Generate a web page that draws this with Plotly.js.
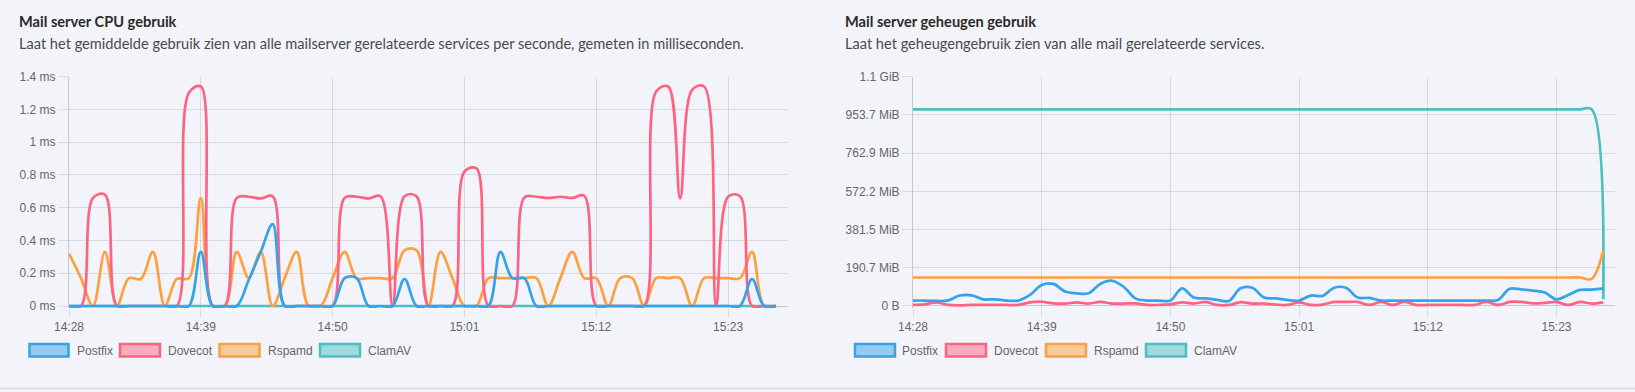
<!DOCTYPE html>
<html>
<head>
<meta charset="utf-8">
<script src="https://cdn.plot.ly/plotly-3.0.1.min.js"></script>
<style>
html,body{margin:0;padding:0;background:#f3f4f9;}
#chart{width:1635px;height:392px;}
</style>
</head>
<body>
<div id="chart"></div>
<script>
// ---- data ----
const times = ['14:28','14:29','14:30','14:31','14:32','14:33','14:34','14:35','14:36','14:37',
  '14:38','14:39','14:40','14:41','14:42','14:43','14:44','14:45','14:46','14:47',
  '14:48','14:49','14:50','14:51','14:52','14:53','14:54','14:55','14:56','14:57',
  '14:58','14:59','15:00','15:01','15:02','15:03','15:04','15:05','15:06','15:07',
  '15:08','15:09','15:10','15:11','15:12','15:13','15:14','15:15','15:16','15:17',
  '15:18','15:19','15:20','15:21','15:22','15:23','15:24','15:25','15:26','15:27'];

const seriesNames = ['Postfix','Dovecot','Rspamd','ClamAV'];

// CPU usage (ms)
const cpuPostfix = [0,0,0,0,0,0,0,0,0,0,
  0,0.33,0,0,0,0.16,0.33,0.5,0,0,
  0,0,0,0.17,0.17,0,0,0,0.165,0,
  0,0,0,0,0,0,0.33,0.17,0.17,0,
  0,0,0,0,0,0,0,0,0,0,
  0,0,0,0,0,0,0,0.165,0,0];
const cpuDovecot = [0,0,0.66,0.68,0,0,0,0,0,0,
  1.30,1.34,0,0,0.66,0.667,0.657,0.67,0,0,
  0,0,0,0.66,0.667,0.657,0.67,0,0.67,0.67,
  0,0,0,0.82,0.84,0,0,0,0.663,0.667,
  0.66,0.667,0.66,0.673,0,0,0,0,0,1.31,
  1.34,0.657,1.32,1.34,0,0.667,0.67,0,0,0];
const cpuRspamd = [0.32,0.17,0,0.33,0,0.17,0.165,0.33,0,0.165,
  0.17,0.66,0,0,0.33,0.17,0.33,0,0.17,0.33,
  0,0,0.17,0.33,0.17,0.17,0.17,0.17,0.34,0.34,
  0,0.33,0.17,0,0,0.17,0.17,0.17,0.17,0.17,
  0,0.17,0.33,0.17,0.17,0,0.17,0.17,0,0.17,
  0.17,0.17,0,0.17,0.17,0.17,0.17,0.33,0,0];
const cpuClamAV = [0,0,0,0,0,0,0,0,0,0,
  0,0,0,0,0,0,0,0,0,0,
  0,0,0,0,0,0,0,0,0,0,
  0,0,0,0,0,0,0,0,0,0,
  0,0,0,0,0,0,0,0,0,0,
  0,0,0,0,0,0,0,0,0,0];

// Memory usage (MiB)
const memPostfix = [27,27,25,28,52,53,33,33,27,27,
  55,105,110,72,63,63,110,126,96,38,
  27,27,27,88,42,38,30,25,88,91,
  42,38,30,27,52,50,91,91,42,40,
  27,27,27,27,27,27,27,27,27,27,
  30,86,83,77,67,33,55,80,82,88];
const memDovecot = [5,8,18,5,3,5,5,5,5,5,
  18,21,13,12,18,12,20,12,12,13,
  5,5,8,18,12,20,5,5,19,12,
  12,7,5,18,5,7,20,20,20,5,
  20,5,20,5,5,5,5,5,5,20,
  5,20,20,13,15,20,5,20,12,18];
const memRspamd = [142,142,142,142,142,142,142,142,142,142,
  142,142,142,142,142,142,142,142,142,142,
  142,142,142,142,142,142,142,142,142,142,
  142,142,142,142,142,142,142,142,142,142,
  142,142,142,142,142,142,142,142,142,142,
  142,142,142,142,142,142,142,142,135,279];
const memClamAV = [981,981,981,981,981,981,981,981,981,981,
  981,981,981,981,981,981,981,981,981,981,
  981,981,981,981,981,981,981,981,981,981,
  981,981,981,981,981,981,981,981,981,981,
  981,981,981,981,981,981,981,981,981,981,
  981,981,981,981,981,981,981,981,982,33];

const cpuTickVals = [0,0.2,0.4,0.6,0.8,1,1.2,1.4];
const cpuTickText = ['0 ms','0.2 ms','0.4 ms','0.6 ms','0.8 ms','1 ms','1.2 ms','1.4 ms'];
const memTickVals = [0,190.73,381.47,572.2,762.94,953.67,1144.41];
const memTickText = ['0 B','190.7 MiB','381.5 MiB','572.2 MiB','762.9 MiB','953.7 MiB','1.1 GiB'];

// ---- styling ----
const colors = {Postfix:'rgb(54,162,235)', Dovecot:'rgb(255,99,132)', Rspamd:'rgb(255,159,64)', ClamAV:'rgb(75,192,192)'};
const fills = {Postfix:'rgba(54,162,235,0.5)', Dovecot:'rgba(255,99,132,0.5)', Rspamd:'rgba(255,159,64,0.5)', ClamAV:'rgba(75,192,192,0.5)'};
const W = 1635, H = 392;
const px = v => v / W;
const py = v => (H - v) / H;
const x = times.map(t => '2024-01-01 ' + t + ':00');

const cpu = {Postfix:cpuPostfix, Dovecot:cpuDovecot, Rspamd:cpuRspamd, ClamAV:cpuClamAV};
const mem = {Postfix:memPostfix, Dovecot:memDovecot, Rspamd:memRspamd, ClamAV:memClamAV};

const traces = [];
const drawOrder = ['ClamAV','Rspamd','Dovecot','Postfix'];
drawOrder.forEach(n => {
  traces.push({x:x, y:cpu[n], name:n, type:'scatter', mode:'lines', xaxis:'x', yaxis:'y',
    line:{color:colors[n], width:2.7, shape:'spline', smoothing:1}, showlegend:false, hoverinfo:'skip'});
});
drawOrder.forEach(n => {
  traces.push({x:x, y:mem[n], name:n, type:'scatter', mode:'lines', xaxis:'x2', yaxis:'y2',
    line:{color:colors[n], width:2.7, shape:'spline', smoothing:1}, showlegend:false, hoverinfo:'skip'});
});

const gridC = 'rgba(0,0,0,0.1)';
const tickFont = {family:'"Liberation Sans", Arial, sans-serif', size:12, color:'#666'};
const yDom = [py(307.97), py(76.67)];

function xAxis(dom, anchor){
  return {domain:dom, anchor:anchor, type:'date',
    range:['2024-01-01 14:28:00','2024-01-01 15:28:00'],
    tick0:'2024-01-01 14:28:00', dtick:660000, tickformat:'%H:%M',
    showgrid:true, gridcolor:gridC, gridwidth:1, zeroline:false, showline:false,
    ticks:'outside', ticklen:8, tickcolor:gridC, tickfont:tickFont, fixedrange:true};
}
function yAxis(anchor, range, tv, tt){
  return {domain:yDom, anchor:anchor, range:range, tickvals:tv, ticktext:tt,
    showgrid:true, gridcolor:gridC, gridwidth:1, zeroline:true, zerolinecolor:'rgba(0,0,0,0.18)', zerolinewidth:1,
    showline:true, linecolor:'rgba(0,0,0,0.18)', linewidth:1,
    ticks:'outside', ticklen:10, tickcolor:gridC, tickfont:tickFont, fixedrange:true};
}

const shapes = [];
const annotations = [];
function legend(boxes, texts){
  seriesNames.forEach((n,i) => {
    shapes.push({type:'rect', xref:'paper', yref:'paper',
      x0:px(boxes[i][0]), x1:px(boxes[i][1]), y0:py(356.5), y1:py(344),
      fillcolor:fills[n], line:{color:colors[n], width:2.5}});
    annotations.push({xref:'paper', yref:'paper', x:px(texts[i]), y:py(350.5), xanchor:'left', yanchor:'middle',
      text:n, showarrow:false, font:tickFont});
  });
}
legend([[29.5,68.5],[120,160],[219.5,259.5],[320,360]], [74.5,166,265.5,365.5]);
legend([[855,895],[946,986],[1046,1086],[1146,1186]], [900,991.5,1091.5,1191.5]);

function heading(x0, title, sub){
  annotations.push({xref:'paper', yref:'paper', x:px(x0), y:py(21.5), xanchor:'left', yanchor:'middle',
    text:'<b>'+title+'</b>', showarrow:false, font:{family:'Lato, "Noto Sans", sans-serif', size:14.6, color:'#2a2a2a'}});
  annotations.push({xref:'paper', yref:'paper', x:px(x0), y:py(43.5), xanchor:'left', yanchor:'middle',
    text:sub, showarrow:false, font:{family:'Lato, "Noto Sans", sans-serif', size:14.6, color:'#4a4a4a'}});
}
heading(17, 'Mail server CPU gebruik', 'Laat het gemiddelde gebruik zien van alle mailserver gerelateerde services per seconde, gemeten in milliseconden.');
heading(843, 'Mail server geheugen gebruik', 'Laat het geheugengebruik zien van alle mail gerelateerde services.');

shapes.push({type:'line', xref:'paper', yref:'paper', x0:0, x1:1, y0:py(388.5), y1:py(388.5), line:{color:'#d8d9de', width:1.5}});

const layout = {
  width:W, height:H, margin:{l:0,r:0,t:0,b:0},
  paper_bgcolor:'#f3f4f9', plot_bgcolor:'#f3f4f9',
  xaxis: xAxis([px(69), px(788)], 'y'),
  yaxis: yAxis('x', [-0.012, 1.4], cpuTickVals, cpuTickText),
  xaxis2: xAxis([px(913), px(1615)], 'y2'),
  yaxis2: yAxis('x2', [-10, 1144.41], memTickVals, memTickText),
  shapes: shapes, annotations: annotations, showlegend:false, hovermode:false
};
Plotly.newPlot('chart', traces, layout, {displayModeBar:false, staticPlot:true});
</script>
</body>
</html>
